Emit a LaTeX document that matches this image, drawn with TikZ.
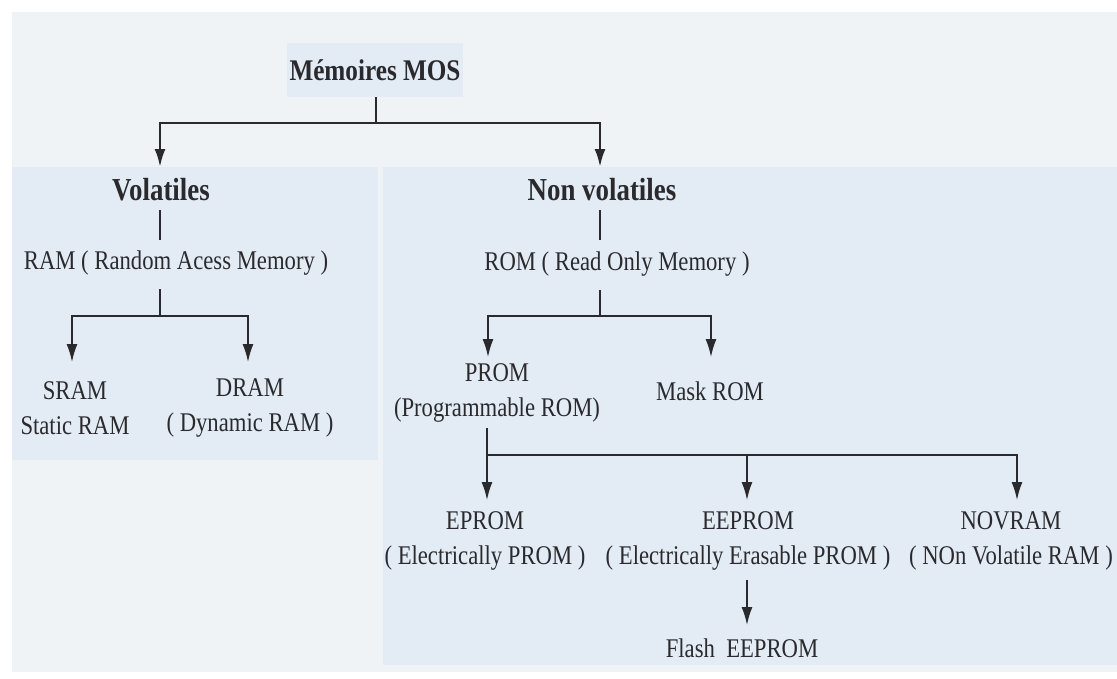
\documentclass[tikz,border=0pt]{standalone}
\usepackage{fontspec}
\setmainfont{Liberation Serif}[FakeStretch=0.84]
\usetikzlibrary{arrows.meta}
\definecolor{pagebg}{HTML}{EFF3F6}
\definecolor{panelbg}{HTML}{E3ECF4}
\definecolor{ink}{HTML}{2A2A2E}
\tikzset{
  lbl/.style={text=ink,font=\fontsize{27}{35}\selectfont,align=center,inner sep=1pt},
  head/.style={text=ink,font=\fontsize{32}{38}\selectfont\bfseries,inner sep=1pt},
  conn/.style={draw=ink,line width=1.6pt},
  arr/.style={conn,-{Latex[length=18pt,width=11pt]}},
}
\begin{document}
\begin{tikzpicture}[x=1pt,y=-1pt]
\useasboundingbox (0,0) rectangle (1117,678);
\fill[white] (0,0) rectangle (1117,678);
\fill[pagebg] (12,12) rectangle (1117,672);
\fill[panelbg] (12,167) rectangle (378,460);
\fill[panelbg] (383,167) rectangle (1117,665);

\node[head,font=\fontsize{30}{34}\selectfont\bfseries,fill=panelbg,minimum width=176pt,minimum height=54pt] (mos) at (375,70) {Mémoires MOS};
\node[head] (vol) at (161,190) {Volatiles};
\node[head] (nvol) at (602,190) {Non volatiles};
\node[lbl] (ram) at (176,263) {RAM ( Random Acess Memory )};
\node[lbl] (rom) at (617,264) {ROM ( Read Only Memory )};
\node[lbl] (sram) at (75,408) {SRAM\\Static RAM};
\node[lbl] (dram) at (250,408) {DRAM\\( Dynamic RAM )};
\node[lbl] (prom) at (497,393) {PROM\\(Programmable ROM)};
\node[lbl] (mask) at (710,391) {Mask ROM};
\node[lbl] (eprom) at (485,541) {EPROM\\( Electrically PROM )};
\node[lbl] (eeprom) at (748,541) {EEPROM\\( Electrically Erasable PROM )};
\node[lbl] (novram) at (1011,541) {NOVRAM\\( NOn Volatile RAM )};
\node[lbl] (flash) at (742,648) {Flash\ \ EEPROM};

\coordinate (j0) at (376,123);
\coordinate (j1) at (160,316);
\coordinate (j2) at (600,316);
\coordinate (j3) at (487,455);

\draw[conn] (mos.south -| j0) -- (j0);
\draw[arr,line width=2.6pt] (j0) -| (160,167);
\draw[arr,line width=2.6pt] (j0) -| (600,167);

\draw[conn] (160,210) -- (160,240);
\draw[conn] (160,289) -- (j1);
\draw[arr] (j1) -| (72,362);
\draw[arr] (j1) -| (248,362);

\draw[conn] (600,210) -- (600,240);
\draw[conn] (600,290) -- (j2);
\draw[arr] (j2) -| (488,357);
\draw[arr] (j2) -| (711,357);

\draw[conn] (487,428) -- (j3);
\draw[arr] (j3) -- (487,500);
\draw[arr] (j3) -| (747,500);
\draw[arr] (j3) -| (1017,500);

\draw[arr] (747,580) -- (747,625);
\end{tikzpicture}
\end{document}
